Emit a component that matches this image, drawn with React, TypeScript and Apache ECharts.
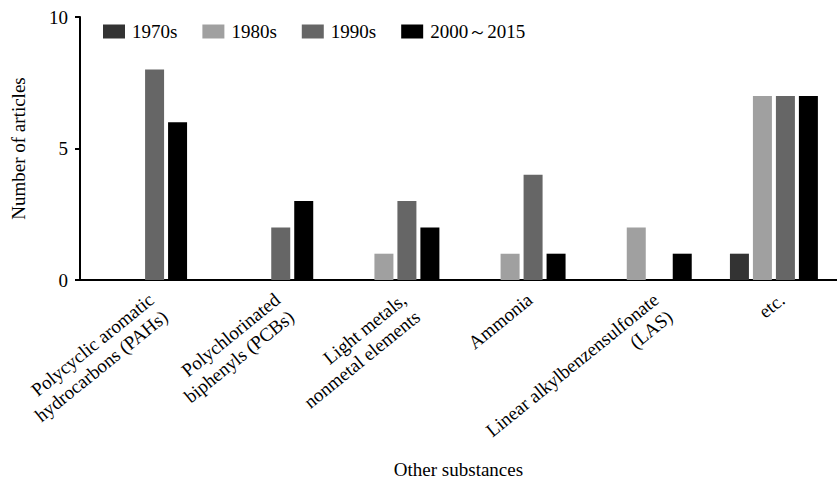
import React, { useEffect, useRef } from "react";
import * as echarts from "echarts";

const categories = [
  "Polycyclic aromatic\nhydrocarbons (PAHs)",
  "Polychlorinated\nbiphenyls (PCBs)",
  "Light metals,\nnonmetal elements",
  "Ammonia",
  "Linear alkylbenzensulfonate\n(LAS)",
  "etc.",
];
const seriesNames = ["1970s", "1980s", "1990s", "2000～2015"];
const values1970s = [0, 0, 0, 0, 0, 1];
const values1980s = [0, 0, 1, 1, 2, 7];
const values1990s = [8, 2, 3, 4, 0, 7];
const values2000s = [6, 3, 2, 1, 1, 7];
const colors = ["#333333", "#a0a0a0", "#666666", "#000000"];
const yTicks = { min: 0, max: 10, interval: 5 };

const FONT = "'Liberation Serif', 'Times New Roman', serif";

export default function App() {
  const ref = useRef<HTMLDivElement>(null);
  useEffect(() => {
    if (!ref.current) return;
    const chart = echarts.init(ref.current, undefined, { renderer: "svg" });
    const data = [values1970s, values1980s, values1990s, values2000s];
    const txt = { fontFamily: FONT, fontSize: 19, color: "#000", fontWeight: "normal" };
    chart.setOption({
      animation: false,
      backgroundColor: "#ffffff",
      textStyle: { fontFamily: FONT, color: "#000" },
      legend: {
        left: 98,
        top: 17,
        padding: 5,
        itemWidth: 22,
        itemHeight: 14,
        itemGap: 25,
        icon: "rect",
        textStyle: { ...txt, padding: [0, 0, 0, 2] },
        data: seriesNames,
      },
      grid: {
        left: 80,
        right: 0,
        top: 17,
        bottom: 203,
        containLabel: false,
        outerBoundsMode: "none",
      },
      xAxis: {
        type: "category",
        data: categories,
        name: "Other substances",
        nameLocation: "middle",
        nameGap: 180,
        nameMoveOverlap: false,
        nameTextStyle: { ...txt },
        axisLine: { lineStyle: { color: "#000", width: 2 } },
        axisTick: { show: false },
        axisLabel: {
          ...txt,
          interval: 0,
          rotate: 39,
          margin: 7,
          align: "right",
          verticalAlign: "top",
          lineHeight: 22,
          padding: [2, 0, 0, 0],
          hideOverlap: false,
        },
      },
      yAxis: {
        type: "value",
        min: yTicks.min,
        max: yTicks.max,
        interval: yTicks.interval,
        name: "Number of articles",
        nameLocation: "middle",
        nameGap: 52,
        nameMoveOverlap: false,
        nameTextStyle: { ...txt },
        axisLine: { show: true, lineStyle: { color: "#000", width: 2 } },
        axisTick: { show: true, length: 5, lineStyle: { color: "#000", width: 2 } },
        splitLine: { show: false },
        axisLabel: { ...txt, margin: 12 },
      },
      series: seriesNames.map((name, i) => ({
        name,
        type: "bar",
        data: data[i],
        barWidth: 19,
        barGap: "21%",
        itemStyle: { color: colors[i] },
      })),
    });
    return () => chart.dispose();
  }, []);
  return (
    <div
      ref={ref}
      style={{ position: "absolute", left: 0, top: 0, width: 837, height: 483 }}
    />
  );
}
